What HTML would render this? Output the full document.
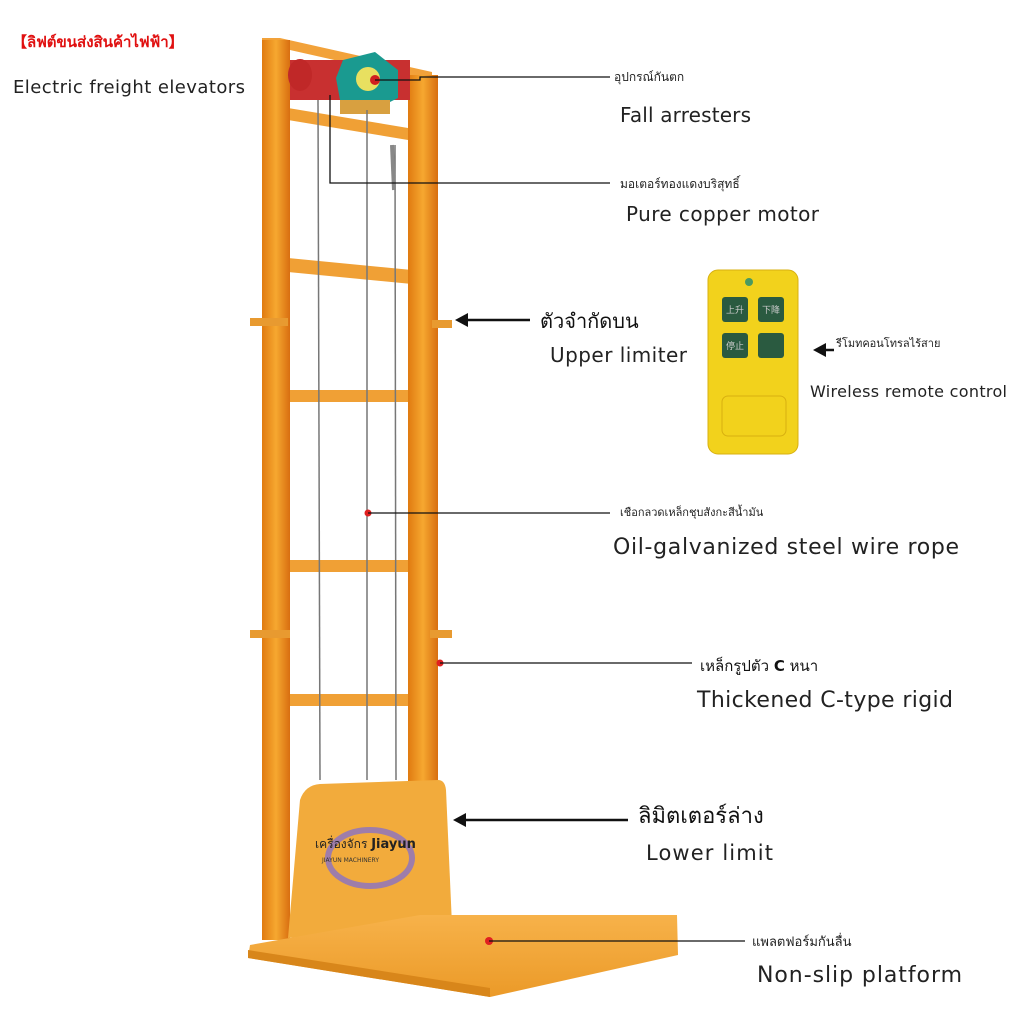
<!DOCTYPE html>
<html><head><meta charset="utf-8"><style>
body{margin:0;background:#fff}
svg text{font-family:"DejaVu Sans","Liberation Sans",sans-serif}
</style></head><body>
<svg width="1024" height="1024" viewBox="0 0 1024 1024" xmlns="http://www.w3.org/2000/svg">
<rect width="1024" height="1024" fill="#fff"/>
<defs>
<linearGradient id="up" x1="0" x2="1"><stop offset="0" stop-color="#e07a10"/><stop offset="0.5" stop-color="#f6a830"/><stop offset="1" stop-color="#d86e10"/></linearGradient>
<linearGradient id="pl" x1="0" x2="0" y1="0" y2="1"><stop offset="0" stop-color="#f7b24a"/><stop offset="1" stop-color="#eb9a28"/></linearGradient>
</defs>
<polygon points="262,38 280,38 432,72 432,82 290,50 262,50" fill="#f2a23a"/>
<rect x="278" y="44" width="12" height="30" fill="#e08a20"/>
<polygon points="288,108 420,130 420,142 288,120" fill="#f0a035"/>
<polygon points="288,258 412,270 412,284 288,272" fill="#f0a035"/>
<rect x="288" y="390" width="124" height="12" fill="#f0a035"/>
<rect x="288" y="560" width="128" height="12" fill="#f0a035"/>
<rect x="288" y="694" width="130" height="12" fill="#f0a035"/>
<rect x="262" y="40" width="28" height="900" fill="url(#up)"/>
<rect x="408" y="75" width="30" height="730" fill="url(#up)"/>
<rect x="250" y="318" width="38" height="8" fill="#e89a30"/>
<rect x="432" y="320" width="20" height="8" fill="#e89a30"/>
<rect x="250" y="630" width="40" height="8" fill="#e89a30"/>
<rect x="430" y="630" width="22" height="8" fill="#e89a30"/>
<rect x="290" y="60" width="120" height="40" fill="#c83030"/>
<ellipse cx="300" cy="75" rx="12" ry="16" fill="#c02828"/>
<polygon points="343,60 375,52 398,70 398,98 370,112 340,100 336,78" fill="#1a9a90"/>
<circle cx="368" cy="79" r="12" fill="#e8e060"/>
<circle cx="375" cy="80" r="5" fill="#d02020"/>
<rect x="340" y="100" width="50" height="14" fill="#d8a040"/>
<line x1="318" y1="100" x2="320" y2="780" stroke="#777" stroke-width="1.5"/>
<line x1="367" y1="110" x2="367" y2="780" stroke="#777" stroke-width="1.5"/>
<line x1="395" y1="145" x2="396" y2="780" stroke="#777" stroke-width="1.5"/>
<line x1="392" y1="145" x2="394" y2="190" stroke="#888" stroke-width="4"/>
<path d="M300,800 Q305,785 320,784 L438,780 Q445,780 446,790 L452,925 L288,938 Z" fill="#f2ab3c"/>
<ellipse cx="370" cy="858" rx="42" ry="28" fill="none" stroke="#7a6ad8" stroke-width="6" opacity="0.7"/>
<text x="315" y="848" font-size="12" fill="#222">เครื่องจักร <tspan font-weight="bold" font-size="13">Jiayun</tspan></text>
<text x="322" y="862" font-size="6" fill="#333">JIAYUN MACHINERY</text>
<polygon points="250,945 420,915 677,915 678,955 490,997 248,958" fill="url(#pl)"/>
<polygon points="248,950 490,988 490,997 248,958" fill="#d8861a"/>
<circle cx="368" cy="513" r="3.5" fill="#e02020"/>
<circle cx="440" cy="663" r="3.5" fill="#e02020"/>
<circle cx="489" cy="941" r="4" fill="#e02020"/>
<g stroke="#111" stroke-width="1.3" fill="none">
<polyline points="375,80 420,80 420,77 610,77"/>
<polyline points="330,95 330,183 610,183"/>
<line x1="368" y1="513" x2="610" y2="513"/>
<line x1="440" y1="663" x2="692" y2="663"/>
<line x1="489" y1="941" x2="745" y2="941"/>
</g>
<g stroke="#111" stroke-width="2.5" fill="none">
<line x1="462" y1="320" x2="530" y2="320"/>
<line x1="460" y1="820" x2="628" y2="820"/>
<line x1="820" y1="350" x2="834" y2="350"/>
</g>
<polygon points="455,320 468,313 468,327" fill="#111"/>
<polygon points="453,820 466,813 466,827" fill="#111"/>
<polygon points="813,350 826,343 826,357" fill="#111"/>
<rect x="708" y="270" width="90" height="184" rx="10" fill="#f2d21c" stroke="#d8b010"/>
<circle cx="749" cy="282" r="4" fill="#4a9a60"/>
<rect x="722" y="297" width="26" height="25" rx="3" fill="#2a5a40"/>
<rect x="758" y="297" width="26" height="25" rx="3" fill="#2a5a40"/>
<rect x="722" y="333" width="26" height="25" rx="3" fill="#2a5a40"/>
<rect x="758" y="333" width="26" height="25" rx="3" fill="#2a5a40"/>
<text x="735" y="313" font-size="9" fill="#ccc" text-anchor="middle" font-family="Noto Sans CJK SC">上升</text>
<text x="771" y="313" font-size="9" fill="#ccc" text-anchor="middle" font-family="Noto Sans CJK SC">下降</text>
<text x="735" y="349" font-size="9" fill="#ccc" text-anchor="middle" font-family="Noto Sans CJK SC">停止</text>
<rect x="722" y="396" width="64" height="40" rx="6" fill="none" stroke="#d8b010"/>
<text x="12" y="47" font-size="15" font-weight="bold" fill="#e01010">【ลิฟต์ขนส่งสินค้าไฟฟ้า】</text>
<text x="13" y="93" font-size="18" fill="#222" textLength="232">Electric freight elevators</text>
<text x="614" y="81" font-size="12" fill="#222">อุปกรณ์กันตก</text>
<text x="620" y="122" font-size="20" fill="#222" textLength="131">Fall arresters</text>
<text x="620" y="188" font-size="12" fill="#222">มอเตอร์ทองแดงบริสุทธิ์</text>
<text x="626" y="221" font-size="20" fill="#222" textLength="193">Pure copper motor</text>
<text x="540" y="328" font-size="20" fill="#111">ตัวจำกัดบน</text>
<text x="550" y="362" font-size="20" fill="#222" textLength="137">Upper limiter</text>
<text x="836" y="347" font-size="11" fill="#222">รีโมทคอนโทรลไร้สาย</text>
<text x="810" y="397" font-size="16" fill="#222" textLength="197">Wireless remote control</text>
<text x="620" y="516" font-size="11" fill="#222">เชือกลวดเหล็กชุบสังกะสีน้ำมัน</text>
<text x="613" y="554" font-size="22" fill="#222" textLength="346">Oil-galvanized steel wire rope</text>
<text x="700" y="671" font-size="15" fill="#111">เหล็กรูปตัว <tspan font-weight="bold">C</tspan> หนา</text>
<text x="697" y="707" font-size="22" fill="#222" textLength="256">Thickened C-type rigid</text>
<text x="638" y="823" font-size="22" fill="#111">ลิมิตเตอร์ล่าง</text>
<text x="646" y="860" font-size="21" fill="#222" textLength="127">Lower limit</text>
<text x="752" y="946" font-size="13" fill="#222">แพลตฟอร์มกันลื่น</text>
<text x="757" y="982" font-size="22" fill="#222" textLength="205">Non-slip platform</text>
</svg>
</body></html>
